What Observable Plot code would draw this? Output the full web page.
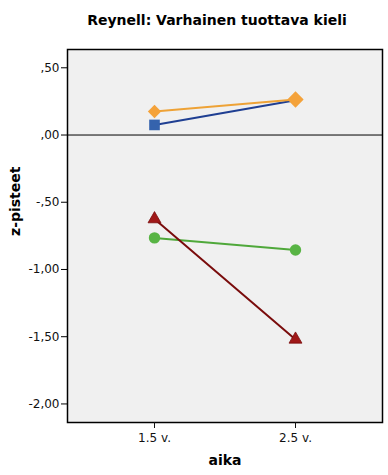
<!DOCTYPE html>
<html>
<head>
<meta charset="utf-8">
<script src="https://cdn.jsdelivr.net/npm/d3@7"></script>
<script src="https://cdn.jsdelivr.net/npm/@observablehq/plot@0.6"></script>
<style>
  html, body { margin: 0; padding: 0; background: #fff; }
  #title { width: 388px; height: 40px; box-sizing: border-box; padding-left: 46px; text-align: center;
           font: bold 14px "DejaVu Sans", sans-serif; line-height: 40px; color: #000; }
</style>
</head>
<body>
<div id="title">Reynell: Varhainen tuottava kieli</div>
<div id="chart"></div>
<script>
const times = ["1.5 v.", "2.5 v."];
const groupNames = ["ryhmä 1", "ryhmä 2", "ryhmä 3", "ryhmä 4"];
const greenVals = [-0.765, -0.855];
const redVals = [-0.625, -1.52];
const blueVals = [0.075, 0.258];
const orangeVals = [0.175, 0.264];
const yTicks = [-2, -1.5, -1, -0.5, 0, 0.5];

const diamond = {
  draw(context, size) {
    const h = Math.sqrt(size / 2);
    context.moveTo(0, -h); context.lineTo(h, 0); context.lineTo(0, h); context.lineTo(-h, 0); context.closePath();
  }
};

// marker radius per time point (the 2.5 v. orange diamond is drawn larger and covers the blue one)
const series = [
  {name: groupNames[0], vals: greenVals, line: "#4fa83a", fill: "#58b444", symbol: "circle", r: [5.7, 5.7]},
  {name: groupNames[1], vals: redVals, line: "#7a0c0c", fill: "#a01818", symbol: "triangle", r: [4.8, 4.8]},
  {name: groupNames[2], vals: blueVals, line: "#1f3f92", fill: "#3563ad", symbol: "square", r: [6.0, 3.6]},
  {name: groupNames[3], vals: orangeVals, line: "#eea236", fill: "#f4a23a", symbol: diamond, r: [5.3, 6.5]}
];

const fmt = d => {
  const s = Math.abs(d).toFixed(2).replace(".", ",");
  const t = s.startsWith("0") ? s.slice(1) : s;
  return (d < 0 ? "-" : "") + t;
};

const marks = [
  Plot.frame({fill: "#f0f0f0", stroke: null}),
  Plot.ruleY([0], {stroke: "#000", strokeWidth: 1})
];
for (const s of series) {
  const data = times.map((t, i) => ({time: t, value: s.vals[i], group: s.name}));
  marks.push(Plot.line(data, {x: "time", y: "value", stroke: s.line, strokeWidth: 2}));
}
for (const s of series) {
  const data = times.map((t, i) => ({time: t, value: s.vals[i], group: s.name, r: s.r[i]}));
  marks.push(Plot.dot(data, {x: "time", y: "value", symbol: () => s.symbol, fill: s.fill, stroke: s.symbol === "triangle" ? s.line : "none", strokeWidth: 0.8, r: "r"}));
}
marks.push(
  Plot.frame({stroke: "#000", strokeWidth: 1.5}),
  Plot.axisY({ticks: yTicks, tickFormat: fmt, tickSize: 6, tickPadding: 2, label: null, fontSize: 12, color: "#111", stroke: "#000"}),
  Plot.axisX({tickSize: 6, tickPadding: 5, label: null, fontSize: 12, color: "#111"}),
  Plot.text(["z-pisteet"], {frameAnchor: "left", dx: -52, rotate: -90, text: d => d, fontWeight: "bold", fontSize: 14, fill: "#000"}),
  Plot.text(["aika"], {frameAnchor: "bottom", dy: 42, text: d => d, fontWeight: "bold", fontSize: 14, fill: "#000"})
);

const chart = Plot.plot({
  width: 388,
  height: 435,
  marginTop: 9,
  marginBottom: 53,
  marginLeft: 67,
  marginRight: 6,
  style: {fontFamily: "DejaVu Sans, sans-serif", background: "#fff"},
  x: {type: "point", domain: times, padding: 0.61},
  y: {domain: [-2.138, 0.636]},
  symbol: {type: "identity"},
  r: {type: "identity"},
  marks
});
document.getElementById("chart").appendChild(chart);
</script>
</body>
</html>
